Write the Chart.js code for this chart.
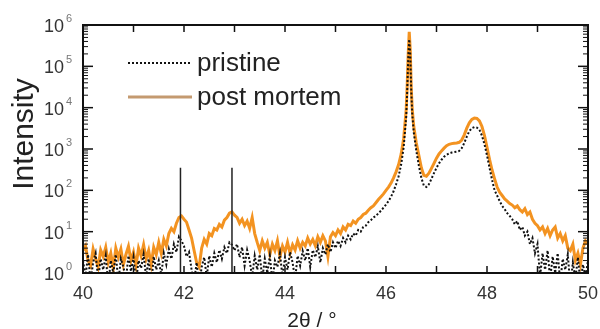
<!DOCTYPE html>
<html><head><meta charset="utf-8">
<script src="https://cdn.jsdelivr.net/npm/chart.js@4.4.1/dist/chart.umd.min.js"></script>
<style>html,body{margin:0;padding:0;background:#fff;overflow:hidden}</style>
</head><body>
<canvas id="c" width="600" height="329"></canvas>
<script>
const twoTheta = [
40.00,40.05,40.10,40.15,40.20,40.25,40.30,40.35,40.40,40.45,
40.50,40.55,40.60,40.65,40.70,40.75,40.80,40.85,40.90,40.95,
41.00,41.05,41.10,41.15,41.20,41.25,41.30,41.35,41.40,41.45,
41.50,41.55,41.60,41.65,41.70,41.75,41.80,41.85,41.90,41.95,
42.00,42.05,42.10,42.15,42.20,42.25,42.30,42.35,42.40,42.45,
42.50,42.55,42.60,42.65,42.70,42.75,42.80,42.85,42.90,42.95,
43.00,43.05,43.10,43.15,43.20,43.25,43.30,43.35,43.40,43.45,
43.50,43.55,43.60,43.65,43.70,43.75,43.80,43.85,43.90,43.95,
44.00,44.05,44.10,44.15,44.20,44.25,44.30,44.35,44.40,44.45,
44.50,44.55,44.60,44.65,44.70,44.75,44.80,44.85,44.90,44.95,
45.00,45.05,45.10,45.15,45.20,45.25,45.30,45.35,45.40,45.45,
45.50,45.55,45.60,45.65,45.70,45.75,45.80,45.85,45.90,45.95,
46.00,46.05,46.10,46.15,46.20,46.25,46.30,46.35,
46.40,46.42,46.44,46.46,46.48,46.50,46.52,46.55,
46.60,46.65,46.70,46.75,46.80,46.85,46.90,46.95,47.00,47.05,
47.10,47.15,47.20,47.25,47.30,47.35,47.40,47.45,47.50,47.55,
47.60,47.65,47.70,47.75,47.80,47.85,47.90,47.95,48.00,48.05,
48.10,48.15,48.20,48.25,48.30,48.35,48.40,48.45,48.50,48.55,
48.60,48.65,48.70,48.75,48.80,48.85,48.90,48.95,49.00,49.05,
49.10,49.15,49.20,49.25,49.30,49.35,49.40,49.45,49.50,49.55,
49.60,49.65,49.70,49.75,49.80,49.85,49.90,49.95,50.00
];
const pristine = [
2.0,0.8,2.8,0.6,1.8,3.0,0.7,2.2,1.2,2.6,
0.5,2.0,1.0,2.8,0.6,2.2,1.4,0.7,2.6,1.1,
2.4,0.6,2.0,1.3,2.8,0.8,2.2,0.5,2.5,1.2,
2.0,0.9,3.0,1.6,3.8,2.2,5.0,3.2,7.5,6.0,
4.5,2.5,3.2,1.2,0.6,1.8,0.5,1.4,2.4,0.8,
2.6,1.4,3.0,1.8,3.6,2.2,4.2,3.0,5.5,4.8,
3.5,5.0,2.4,4.2,1.5,3.6,2.0,0.8,2.6,1.2,
2.8,0.7,2.2,1.0,2.6,0.6,2.0,1.4,3.0,0.8,
2.4,1.2,3.2,1.8,0.7,2.6,1.5,3.4,2.0,4.0,
1.4,3.6,2.4,4.4,1.8,4.0,2.8,5.0,3.2,5.5,
4.0,6.0,4.5,7.0,5.5,8.0,6.5,9.0,8.0,11,
10,13,14,17,19,22,24,28,32,38,
45,55,70,95,140,220,420,1100,
6000,25000,150000,450000,200000,25000,7000,2500,
900,400,200,130,120,140,190,260,350,450,
550,650,720,780,820,840,860,900,1050,1400,
2000,2700,3200,3400,3300,2900,2100,1300,700,350,
180,100,75,55,42,35,28,24,20,15,
18,11,13,8,10,5,7,3,5,0.8,
3,1.2,3.5,0.7,2.5,1.0,3.0,0.6,2.2,1.2,
2.8,0.5,1.8,0.7,2.4,0.6,1.6,0.8,2.0
];
const postMortem = [
3.5,4.5,2.0,1.5,3.8,2.2,1.4,3.6,2.5,4.2,
1.8,3.0,1.3,4.0,2.4,3.8,1.6,2.8,4.4,2.0,
3.2,1.5,4.0,2.6,4.8,2.2,3.5,1.6,4.2,2.8,
5.5,3.0,6.5,4.5,9.0,12,10,16,22,24,
20,17,11,7,3.5,1.8,1.4,4.0,6.5,5.0,
9.0,8.0,12,11,15,13,19,22,28,30,
25,22,16,20,14,18,12,22,9,5.5,
3.5,6.0,4.0,5.5,2.8,5.0,3.5,6.0,2.5,4.5,
3.2,5.5,3.0,4.8,3.6,6.0,4.0,5.5,4.5,7.0,
5.0,6.5,4.6,7.5,5.5,8.0,6.0,2.5,7.5,9.5,
8.0,11,9.0,13,11,15,14,18,16,20,
22,26,28,33,38,42,50,60,70,82,
100,120,150,200,280,420,750,1800,
9000,35000,200000,680000,250000,30000,9000,3500,
1400,700,350,230,220,260,340,450,600,760,
900,1050,1200,1300,1350,1380,1400,1450,1650,2200,
3200,4300,5200,5600,5500,4800,3500,2100,1100,560,
310,190,120,90,75,62,55,48,44,38,
42,34,30,36,26,30,20,16,14,11,
13,9,12,8,11,13,7,9,6,8,
4,3.5,5,2,3,1.6,4,6,5
];
const referenceLines = [41.93, 42.95];
const referenceTop = 350;
const seriesNames = ['pristine', 'post mortem'];
const xTickLabels = [40, 42, 44, 46, 48, 50];
const xTickMarks = [40, 41, 42, 43, 44, 45, 46, 47, 48, 49, 50];
const yExponents = [0, 1, 2, 3, 4, 5, 6];
const xTitle = '2θ / °';
const yTitle = 'Intensity';

const FONT = '"Liberation Sans", Arial, sans-serif';
const toPts = ys => twoTheta.map((x, i) => ({x, y: ys[i]}));
const refData = [];
referenceLines.forEach(v => { refData.push({x: v, y: 1}, {x: v, y: referenceTop}, {x: v, y: null}); });

const decor = {
  id: 'decor',
  afterDatasetsDraw(chart) {
    const {ctx, chartArea: a, scales: {x, y}} = chart;
    ctx.save();
    ctx.strokeStyle = '#111';
    const seg = (x1, y1, x2, y2) => { ctx.beginPath(); ctx.moveTo(x1, y1); ctx.lineTo(x2, y2); ctx.stroke(); };
    ctx.lineWidth = 1.5;
    xTickMarks.forEach(v => {
      const px = x.getPixelForValue(v);
      seg(px, a.bottom, px, a.bottom - 7);
      seg(px, a.top, px, a.top + 7);
    });
    yExponents.forEach(e => {
      const py = y.getPixelForValue(Math.pow(10, e));
      ctx.lineWidth = 1.5;
      seg(a.left, py, a.left + 10, py);
      seg(a.right, py, a.right - 10, py);
      if (e < 6) {
        ctx.lineWidth = 1;
        for (let k = 2; k <= 9; k++) {
          const pm = y.getPixelForValue(k * Math.pow(10, e));
          seg(a.left, pm, a.left + 5, pm);
          seg(a.right, pm, a.right - 5, pm);
        }
      }
    });
    ctx.lineWidth = 2;
    ctx.strokeStyle = '#111';
    ctx.strokeRect(a.left, a.top, a.right - a.left, a.bottom - a.top);

    ctx.fillStyle = '#333';
    ctx.font = '18px ' + FONT;
    ctx.textAlign = 'center';
    ctx.textBaseline = 'alphabetic';
    xTickLabels.forEach(v => ctx.fillText(String(v), x.getPixelForValue(v), 299));
    yExponents.forEach(e => {
      const py = y.getPixelForValue(Math.pow(10, e));
      ctx.fillStyle = '#333';
      ctx.font = '18px ' + FONT;
      ctx.textAlign = 'right';
      ctx.fillText('10', 64, py + 7);
      ctx.fillStyle = '#777';
      ctx.font = '11px ' + FONT;
      ctx.textAlign = 'left';
      ctx.fillText(String(e), 66, py - 3);
    });
    ctx.fillStyle = '#222';
    ctx.font = '21px ' + FONT;
    ctx.textAlign = 'center';
    ctx.fillText(xTitle, 312, 327);
    ctx.save();
    ctx.translate(33, 134);
    ctx.rotate(-Math.PI / 2);
    ctx.font = '30px ' + FONT;
    ctx.fillText(yTitle, 0, 0);
    ctx.restore();

    ctx.lineWidth = 2;
    ctx.strokeStyle = '#111';
    ctx.setLineDash([2, 2]);
    seg(128, 63, 192, 63);
    ctx.setLineDash([]);
    ctx.lineWidth = 3;
    ctx.strokeStyle = '#c49a70';
    seg(128, 97, 192, 97);
    ctx.fillStyle = '#222';
    ctx.font = '26px ' + FONT;
    ctx.textAlign = 'left';
    ctx.fillText(seriesNames[0], 197, 71);
    ctx.fillText(seriesNames[1], 197, 105);
    ctx.restore();
  }
};

new Chart(document.getElementById('c'), {
  type: 'line',
  data: {
    datasets: [
      {label: seriesNames[0], data: toPts(pristine), borderColor: '#111', borderWidth: 2,
       borderDash: [2, 2], pointRadius: 0, tension: 0, order: 1},
      {label: seriesNames[1], data: toPts(postMortem), borderColor: '#f39321', borderWidth: 3,
       pointRadius: 0, tension: 0, order: 2},
      {label: 'ref', data: refData, borderColor: '#222', borderWidth: 1.5, pointRadius: 0,
       spanGaps: false, order: 0}
    ]
  },
  options: {
    responsive: false,
    animation: false,
    devicePixelRatio: 1,
    layout: {padding: {left: 83, right: 12, top: 25, bottom: 56}},
    plugins: {legend: {display: false}, tooltip: {enabled: false}},
    scales: {
      x: {type: 'linear', min: 40, max: 50, display: false},
      y: {type: 'logarithmic', min: 1, max: 1000000, display: false}
    }
  },
  plugins: [decor]
});
</script>
</body></html>
